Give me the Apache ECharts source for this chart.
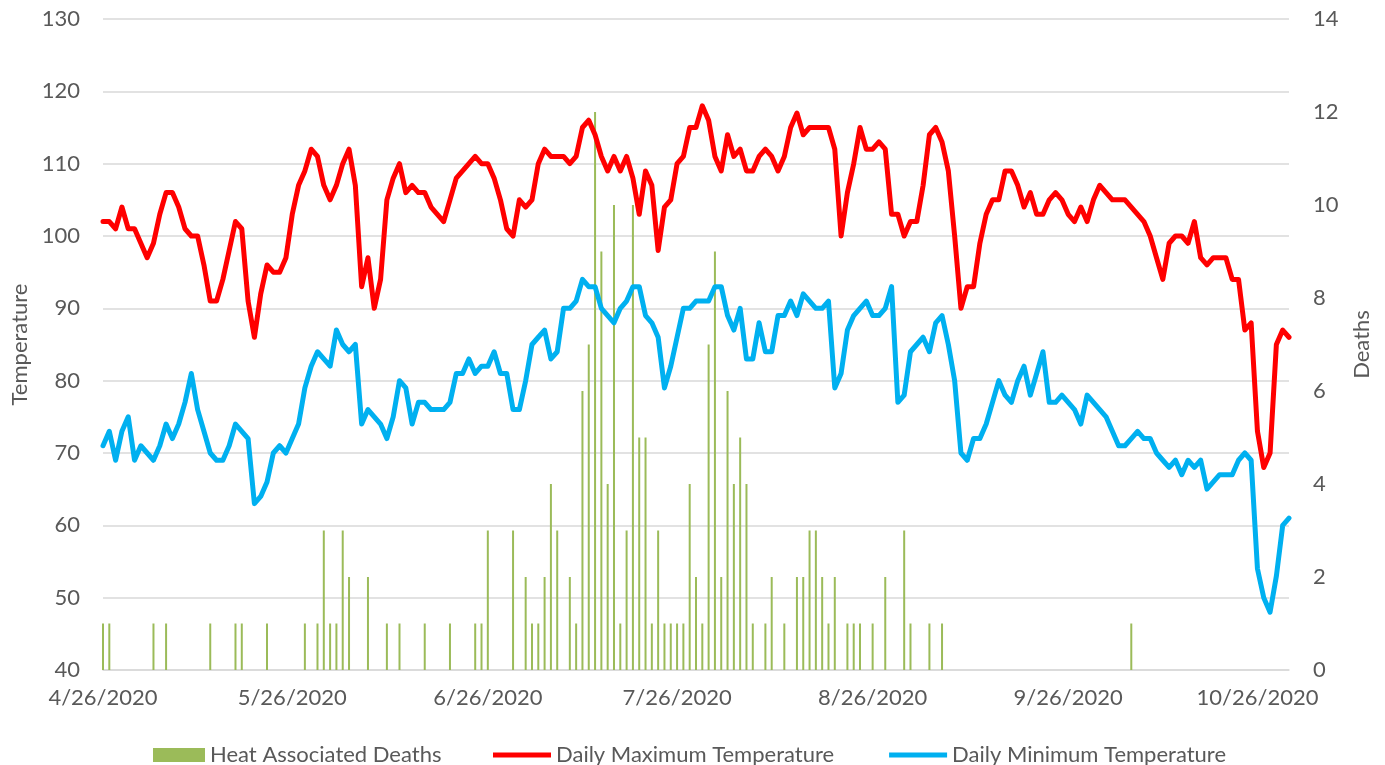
<!DOCTYPE html>
<html>
<head>
<meta charset="utf-8">
<script src="https://cdn.jsdelivr.net/npm/echarts@6/dist/echarts.min.js"></script>
<style>
  html, body { margin: 0; padding: 0; background: #ffffff; }
  #chart { width: 1385px; height: 765px; }
</style>
</head>
<body>
<div id="chart"></div>
<script>
// ---- Data ----
var startDate = [2020, 4, 26];   // first day of the series
var dayCount = 189;              // 4/26/2020 .. 10/31/2020

var tickLabels = ['4/26/2020', '5/26/2020', '6/26/2020', '7/26/2020', '8/26/2020', '9/26/2020', '10/26/2020'];

var maxTemp = [
  102, 102, 101, 104, 101, 101, 99, 97, 99, 103, 106, 106, 104, 101, 100, 100, 96, 91, 91, 94, 98, 102, 101,
  91, 86, 92, 96, 95, 95, 97, 103, 107, 109, 112, 111, 107, 105, 107, 110, 112, 107, 93, 97, 90, 94, 105, 108, 110,
  106, 107, 106, 106, 104, 103, 102, 105, 108, 109, 110, 111, 110, 110, 108, 105, 101, 100, 105, 104, 105, 110, 112,
  111, 111, 111, 110, 111, 115, 116, 114, 111, 109, 111, 109, 111, 108, 103, 109, 107, 98, 104, 105, 110, 111, 115, 115,
  118, 116, 111, 109, 114, 111, 112, 109, 109, 111, 112, 111, 109, 111, 115, 117, 114, 115, 115, 115, 115, 112, 100, 106,
  110, 115, 112, 112, 113, 112, 103, 103, 100, 102, 102, 107, 114, 115, 113, 109, 100, 90, 93, 93, 99, 103, 105, 105,
  109, 109, 107, 104, 106, 103, 103, 105, 106, 105, 103, 102, 104, 102, 105, 107, 106, 105, 105, 105, 104, 103, 102,
  100, 97, 94, 99, 100, 100, 99, 102, 97, 96, 97, 97, 97, 94, 94, 87, 88, 73, 68, 70, 85, 87, 86
];

var minTemp = [
  71, 73, 69, 73, 75, 69, 71, 70, 69, 71, 74, 72, 74, 77, 81, 76, 73, 70, 69, 69, 71, 74, 73,
  72, 63, 64, 66, 70, 71, 70, 72, 74, 79, 82, 84, 83, 82, 87, 85, 84, 85, 74, 76, 75, 74, 72, 75, 80,
  79, 74, 77, 77, 76, 76, 76, 77, 81, 81, 83, 81, 82, 82, 84, 81, 81, 76, 76, 80, 85, 86, 87,
  83, 84, 90, 90, 91, 94, 93, 93, 90, 89, 88, 90, 91, 93, 93, 89, 88, 86, 79, 82, 86, 90, 90, 91,
  91, 91, 93, 93, 89, 87, 90, 83, 83, 88, 84, 84, 89, 89, 91, 89, 92, 91, 90, 90, 91, 79, 81, 87,
  89, 90, 91, 89, 89, 90, 93, 77, 78, 84, 85, 86, 84, 88, 89, 85, 80, 70, 69, 72, 72, 74, 77, 80,
  78, 77, 80, 82, 78, 81, 84, 77, 77, 78, 77, 76, 74, 78, 77, 76, 75, 73, 71, 71, 72, 73, 72,
  72, 70, 69, 68, 69, 67, 69, 68, 69, 65, 66, 67, 67, 67, 69, 70, 69, 54, 50, 48, 53, 60, 61
];

var deaths = [
  1, 1, 0, 0, 0, 0, 0, 0, 1, 0,
  1, 0, 0, 0, 0, 0, 0, 1, 0, 0,
  0, 1, 1, 0, 0, 0, 1, 0, 0, 0,
  0, 0, 1, 0, 1, 3, 1, 1, 3, 2,
  0, 0, 2, 0, 0, 1, 0, 1, 0, 0,
  0, 1, 0, 0, 0, 1, 0, 0, 0, 1,
  1, 3, 0, 0, 0, 3, 0, 2, 1, 1,
  2, 4, 3, 0, 2, 1, 6, 7, 12, 9,
  4, 10, 1, 3, 10, 5, 5, 1, 3, 1,
  1, 1, 1, 4, 2, 1, 7, 9, 2, 6,
  4, 5, 4, 1, 0, 1, 2, 0, 1, 0,
  2, 2, 3, 3, 2, 1, 2, 0, 1, 1,
  1, 0, 1, 0, 2, 0, 0, 3, 1, 0,
  0, 1, 0, 1, 0, 0, 0, 0, 0, 0,
  0, 0, 0, 0, 0, 0, 0, 0, 0, 0,
  0, 0, 0, 0, 0, 0, 0, 0, 0, 0,
  0, 0, 0, 1, 0, 0, 0, 0, 0, 0,
  0, 0, 0, 0, 0, 0, 0, 0, 0, 0,
  0, 0, 0, 0, 0, 0, 0, 0, 0
];

var seriesNames = ['Heat Associated Deaths', 'Daily Maximum Temperature', 'Daily Minimum Temperature'];

// ---- Build categories (dates) ----
var categories = [];
(function () {
  var d = new Date(startDate[0], startDate[1] - 1, startDate[2]);
  for (var i = 0; i < dayCount; i++) {
    categories.push((d.getMonth() + 1) + '/' + d.getDate() + '/' + d.getFullYear());
    d.setDate(d.getDate() + 1);
  }
})();

var FONT = 'Lato, "Open Sans", sans-serif';
var TXT = '#595959';
var GRID = '#d9d9d9';
var legendText = { fontFamily: FONT, fontSize: 22, color: TXT };

var chart = echarts.init(document.getElementById('chart'), null, { renderer: 'canvas' });
chart.setOption({
  animation: false,
  backgroundColor: '#ffffff',
  textStyle: { fontFamily: FONT },
  grid: { left: 103, right: 96, top: 19, bottom: 95, containLabel: false, outerBoundsMode: 'none' },
  legend: [
    {
      data: [{ name: seriesNames[0], icon: 'rect' }],
      left: 153,
      top: 744,
      padding: 0,
      itemWidth: 52,
      itemHeight: 14,
      textStyle: legendText
    },
    {
      data: [
        { name: seriesNames[1], icon: 'rect' },
        { name: seriesNames[2], icon: 'rect' }
      ],
      left: 493,
      top: 744,
      padding: 0,
      itemWidth: 58,
      itemHeight: 5,
      itemGap: 55,
      textStyle: legendText
    }
  ],
  xAxis: {
    type: 'category',
    data: categories,
    boundaryGap: false,
    axisLine: { show: true, lineStyle: { color: GRID, width: 1.5 } },
    axisTick: { show: false },
    splitLine: { show: false },
    axisLabel: {
      interval: function (idx, val) { return tickLabels.indexOf(val) >= 0; },
      hideOverlap: false,
      color: TXT,
      fontFamily: FONT,
      fontSize: 22,
      margin: 17
    }
  },
  yAxis: [
    {
      type: 'value',
      min: 40, max: 130, interval: 10,
      name: 'Temperature',
      nameLocation: 'middle',
      nameRotate: 90,
      nameGap: 72,
      nameTextStyle: { color: TXT, fontFamily: FONT, fontSize: 22 },
      axisLine: { show: false },
      axisTick: { show: false },
      splitLine: { show: true, lineStyle: { color: GRID, width: 1.5 } },
      axisLabel: { color: TXT, fontFamily: FONT, fontSize: 22, margin: 23 }
    },
    {
      type: 'value',
      min: 0, max: 14, interval: 2,
      name: 'Deaths',
      nameLocation: 'middle',
      nameRotate: 90,
      nameGap: 62,
      nameTextStyle: { color: TXT, fontFamily: FONT, fontSize: 22 },
      axisLine: { show: false },
      axisTick: { show: false },
      splitLine: { show: false },
      axisLabel: { color: TXT, fontFamily: FONT, fontSize: 22, margin: 24 }
    }
  ],
  series: [
    {
      name: seriesNames[0],
      type: 'bar',
      yAxisIndex: 1,
      data: deaths,
      barWidth: 2,
      itemStyle: { color: '#9BBB59' },
      z: 1
    },
    {
      name: seriesNames[1],
      type: 'line',
      yAxisIndex: 0,
      data: maxTemp,
      symbol: 'none',
      smooth: false,
      lineStyle: { color: '#FF0000', width: 5, cap: 'round', join: 'round' },
      itemStyle: { color: '#FF0000' },
      z: 3
    },
    {
      name: seriesNames[2],
      type: 'line',
      yAxisIndex: 0,
      data: minTemp,
      symbol: 'none',
      smooth: false,
      lineStyle: { color: '#00B0F0', width: 5, cap: 'round', join: 'round' },
      itemStyle: { color: '#00B0F0' },
      z: 3
    }
  ]
});
</script>
</body>
</html>
